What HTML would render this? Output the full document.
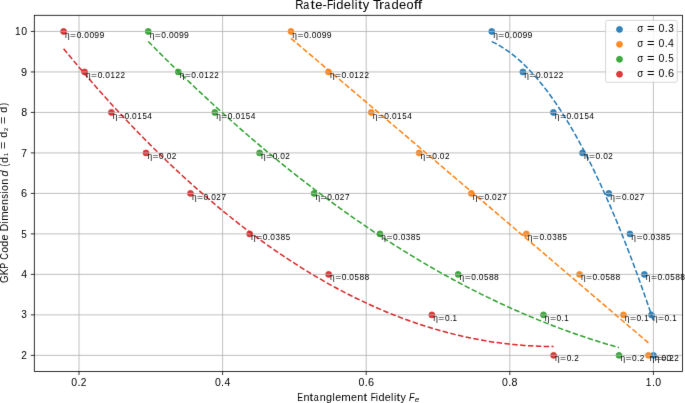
<!DOCTYPE html>
<html><head><meta charset="utf-8"><title>Rate-Fidelity Tradeoff</title>
<style>html,body{margin:0;padding:0;background:#fff;width:685px;height:403px;overflow:hidden}</style>
</head><body>
<svg width="685" height="403" viewBox="0 0 685 403" style="display:block;will-change:transform;font-family:'Liberation Sans',sans-serif">
<defs><filter id="soft" x="0" y="0" width="685" height="403" filterUnits="userSpaceOnUse" color-interpolation-filters="sRGB"><feConvolveMatrix order="3" kernelMatrix="0.00524 0.06192 0.00524 0.06192 0.73137 0.06192 0.00524 0.06192 0.00524" edgeMode="duplicate"/></filter></defs>
<g filter="url(#soft)">
<rect width="685" height="403" fill="#fff"/>
<circle cx="491.74" cy="31.45" r="2.95" fill="#1f77b4" fill-opacity="0.9" stroke="#1f77b4" stroke-opacity="0.9" stroke-width="0.9"/>
<circle cx="522.85" cy="71.94" r="2.95" fill="#1f77b4" fill-opacity="0.9" stroke="#1f77b4" stroke-opacity="0.9" stroke-width="0.9"/>
<circle cx="553.40" cy="112.43" r="2.95" fill="#1f77b4" fill-opacity="0.9" stroke="#1f77b4" stroke-opacity="0.9" stroke-width="0.9"/>
<circle cx="582.50" cy="152.92" r="2.95" fill="#1f77b4" fill-opacity="0.9" stroke="#1f77b4" stroke-opacity="0.9" stroke-width="0.9"/>
<circle cx="608.84" cy="193.41" r="2.95" fill="#1f77b4" fill-opacity="0.9" stroke="#1f77b4" stroke-opacity="0.9" stroke-width="0.9"/>
<circle cx="629.90" cy="233.90" r="2.95" fill="#1f77b4" fill-opacity="0.9" stroke="#1f77b4" stroke-opacity="0.9" stroke-width="0.9"/>
<circle cx="644.40" cy="274.39" r="2.95" fill="#1f77b4" fill-opacity="0.9" stroke="#1f77b4" stroke-opacity="0.9" stroke-width="0.9"/>
<circle cx="651.50" cy="314.88" r="2.95" fill="#1f77b4" fill-opacity="0.9" stroke="#1f77b4" stroke-opacity="0.9" stroke-width="0.9"/>
<circle cx="653.45" cy="355.37" r="2.95" fill="#1f77b4" fill-opacity="0.9" stroke="#1f77b4" stroke-opacity="0.9" stroke-width="0.9"/>
<circle cx="290.95" cy="31.45" r="2.95" fill="#ff7f0e" fill-opacity="0.9" stroke="#ff7f0e" stroke-opacity="0.9" stroke-width="0.9"/>
<circle cx="328.50" cy="71.94" r="2.95" fill="#ff7f0e" fill-opacity="0.9" stroke="#ff7f0e" stroke-opacity="0.9" stroke-width="0.9"/>
<circle cx="371.24" cy="112.43" r="2.95" fill="#ff7f0e" fill-opacity="0.9" stroke="#ff7f0e" stroke-opacity="0.9" stroke-width="0.9"/>
<circle cx="419.15" cy="152.92" r="2.95" fill="#ff7f0e" fill-opacity="0.9" stroke="#ff7f0e" stroke-opacity="0.9" stroke-width="0.9"/>
<circle cx="471.37" cy="193.41" r="2.95" fill="#ff7f0e" fill-opacity="0.9" stroke="#ff7f0e" stroke-opacity="0.9" stroke-width="0.9"/>
<circle cx="526.36" cy="233.90" r="2.95" fill="#ff7f0e" fill-opacity="0.9" stroke="#ff7f0e" stroke-opacity="0.9" stroke-width="0.9"/>
<circle cx="579.50" cy="274.39" r="2.95" fill="#ff7f0e" fill-opacity="0.9" stroke="#ff7f0e" stroke-opacity="0.9" stroke-width="0.9"/>
<circle cx="623.47" cy="314.88" r="2.95" fill="#ff7f0e" fill-opacity="0.9" stroke="#ff7f0e" stroke-opacity="0.9" stroke-width="0.9"/>
<circle cx="648.46" cy="355.37" r="2.95" fill="#ff7f0e" fill-opacity="0.9" stroke="#ff7f0e" stroke-opacity="0.9" stroke-width="0.9"/>
<circle cx="148.23" cy="31.45" r="2.95" fill="#2ca02c" fill-opacity="0.9" stroke="#2ca02c" stroke-opacity="0.9" stroke-width="0.9"/>
<circle cx="178.30" cy="71.94" r="2.95" fill="#2ca02c" fill-opacity="0.9" stroke="#2ca02c" stroke-opacity="0.9" stroke-width="0.9"/>
<circle cx="214.80" cy="112.43" r="2.95" fill="#2ca02c" fill-opacity="0.9" stroke="#2ca02c" stroke-opacity="0.9" stroke-width="0.9"/>
<circle cx="259.57" cy="152.92" r="2.95" fill="#2ca02c" fill-opacity="0.9" stroke="#2ca02c" stroke-opacity="0.9" stroke-width="0.9"/>
<circle cx="314.10" cy="193.41" r="2.95" fill="#2ca02c" fill-opacity="0.9" stroke="#2ca02c" stroke-opacity="0.9" stroke-width="0.9"/>
<circle cx="379.96" cy="233.90" r="2.95" fill="#2ca02c" fill-opacity="0.9" stroke="#2ca02c" stroke-opacity="0.9" stroke-width="0.9"/>
<circle cx="458.16" cy="274.39" r="2.95" fill="#2ca02c" fill-opacity="0.9" stroke="#2ca02c" stroke-opacity="0.9" stroke-width="0.9"/>
<circle cx="543.47" cy="314.88" r="2.95" fill="#2ca02c" fill-opacity="0.9" stroke="#2ca02c" stroke-opacity="0.9" stroke-width="0.9"/>
<circle cx="619.00" cy="355.37" r="2.95" fill="#2ca02c" fill-opacity="0.9" stroke="#2ca02c" stroke-opacity="0.9" stroke-width="0.9"/>
<circle cx="63.60" cy="31.45" r="2.95" fill="#d62728" fill-opacity="0.9" stroke="#d62728" stroke-opacity="0.9" stroke-width="0.9"/>
<circle cx="84.60" cy="71.94" r="2.95" fill="#d62728" fill-opacity="0.9" stroke="#d62728" stroke-opacity="0.9" stroke-width="0.9"/>
<circle cx="111.40" cy="112.43" r="2.95" fill="#d62728" fill-opacity="0.9" stroke="#d62728" stroke-opacity="0.9" stroke-width="0.9"/>
<circle cx="146.00" cy="152.92" r="2.95" fill="#d62728" fill-opacity="0.9" stroke="#d62728" stroke-opacity="0.9" stroke-width="0.9"/>
<circle cx="190.50" cy="193.41" r="2.95" fill="#d62728" fill-opacity="0.9" stroke="#d62728" stroke-opacity="0.9" stroke-width="0.9"/>
<circle cx="249.65" cy="233.90" r="2.95" fill="#d62728" fill-opacity="0.9" stroke="#d62728" stroke-opacity="0.9" stroke-width="0.9"/>
<circle cx="328.66" cy="274.39" r="2.95" fill="#d62728" fill-opacity="0.9" stroke="#d62728" stroke-opacity="0.9" stroke-width="0.9"/>
<circle cx="431.86" cy="314.88" r="2.95" fill="#d62728" fill-opacity="0.9" stroke="#d62728" stroke-opacity="0.9" stroke-width="0.9"/>
<circle cx="553.57" cy="355.37" r="2.95" fill="#d62728" fill-opacity="0.9" stroke="#d62728" stroke-opacity="0.9" stroke-width="0.9"/>
<path d="M79.00 15.30V371.50M222.60 15.30V371.50M366.20 15.30V371.50M509.80 15.30V371.50M653.40 15.30V371.50M34.30 355.37H682.40M34.30 314.88H682.40M34.30 274.39H682.40M34.30 233.90H682.40M34.30 193.41H682.40M34.30 152.92H682.40M34.30 112.43H682.40M34.30 71.94H682.40M34.30 31.45H682.40" stroke="#b0b0b0" stroke-width="0.8" stroke-opacity="1.0" fill="none"/>
<polyline points="491.74,41.57 493.37,42.34 495.01,43.16 496.64,44.01 498.27,44.91 499.91,45.85 501.54,46.83 503.17,47.86 504.81,48.92 506.44,50.03 508.07,51.18 509.71,52.37 511.34,53.60 512.97,54.88 514.61,56.19 516.24,57.55 517.87,58.95 519.51,60.39 521.14,61.88 522.78,63.40 524.41,64.97 526.04,66.58 527.68,68.23 529.31,69.92 530.94,71.66 532.58,73.43 534.21,75.25 535.84,77.11 537.48,79.01 539.11,80.96 540.74,82.94 542.38,84.97 544.01,87.04 545.64,89.15 547.28,91.30 548.91,93.49 550.54,95.73 552.18,98.01 553.81,100.33 555.44,102.69 557.08,105.09 558.71,107.54 560.34,110.02 561.98,112.55 563.61,115.12 565.24,117.74 566.88,120.39 568.51,123.09 570.14,125.82 571.78,128.60 573.41,131.43 575.05,134.29 576.68,137.19 578.31,140.14 579.95,143.13 581.58,146.16 583.21,149.23 584.85,152.35 586.48,155.50 588.11,158.70 589.75,161.94 591.38,165.22 593.01,168.54 594.65,171.91 596.28,175.31 597.91,178.76 599.55,182.25 601.18,185.78 602.81,189.36 604.45,192.97 606.08,196.63 607.71,200.33 609.35,204.07 610.98,207.86 612.61,211.68 614.25,215.55 615.88,219.46 617.51,223.41 619.15,227.40 620.78,231.43 622.41,235.51 624.05,239.62 625.68,243.78 627.32,247.98 628.95,252.23 630.58,256.51 632.22,260.84 633.85,265.21 635.48,269.62 637.12,274.07 638.75,278.56 640.38,283.10 642.02,287.67 643.65,292.29 645.28,296.95 646.92,301.66 648.55,306.40 650.18,311.19 651.82,316.02 653.45,320.89" fill="none" stroke="#1f77b4" stroke-opacity="1.0" stroke-width="1.5" stroke-dasharray="5.495 2.376"/>
<polyline points="290.95,38.31 294.56,41.38 298.17,44.44 301.78,47.50 305.39,50.56 309.01,53.63 312.62,56.69 316.23,59.75 319.84,62.82 323.45,65.88 327.06,68.95 330.67,72.01 334.28,75.08 337.90,78.14 341.51,81.21 345.12,84.27 348.73,87.34 352.34,90.41 355.95,93.47 359.56,96.54 363.17,99.61 366.79,102.68 370.40,105.74 374.01,108.81 377.62,111.88 381.23,114.95 384.84,118.02 388.45,121.09 392.06,124.16 395.68,127.23 399.29,130.30 402.90,133.37 406.51,136.44 410.12,139.52 413.73,142.59 417.34,145.66 420.95,148.73 424.56,151.80 428.18,154.88 431.79,157.95 435.40,161.02 439.01,164.10 442.62,167.17 446.23,170.25 449.84,173.32 453.45,176.40 457.07,179.47 460.68,182.55 464.29,185.62 467.90,188.70 471.51,191.78 475.12,194.85 478.73,197.93 482.34,201.01 485.96,204.09 489.57,207.17 493.18,210.24 496.79,213.32 500.40,216.40 504.01,219.48 507.62,222.56 511.23,225.64 514.85,228.72 518.46,231.80 522.07,234.88 525.68,237.96 529.29,241.05 532.90,244.13 536.51,247.21 540.12,250.29 543.73,253.37 547.35,256.46 550.96,259.54 554.57,262.62 558.18,265.71 561.79,268.79 565.40,271.88 569.01,274.96 572.62,278.05 576.24,281.13 579.85,284.22 583.46,287.30 587.07,290.39 590.68,293.48 594.29,296.56 597.90,299.65 601.51,302.74 605.13,305.83 608.74,308.92 612.35,312.00 615.96,315.09 619.57,318.18 623.18,321.27 626.79,324.36 630.40,327.45 634.02,330.54 637.63,333.63 641.24,336.72 644.85,339.81 648.46,342.91" fill="none" stroke="#ff7f0e" stroke-opacity="1.0" stroke-width="1.5" stroke-dasharray="5.495 2.376"/>
<polyline points="148.23,41.41 152.99,46.25 157.74,51.05 162.50,55.81 167.25,60.54 172.01,65.24 176.76,69.90 181.52,74.52 186.27,79.11 191.03,83.66 195.78,88.18 200.54,92.66 205.29,97.11 210.05,101.52 214.80,105.89 219.56,110.23 224.31,114.53 229.07,118.80 233.82,123.03 238.58,127.23 243.34,131.39 248.09,135.52 252.85,139.61 257.60,143.66 262.36,147.68 267.11,151.66 271.87,155.61 276.62,159.52 281.38,163.40 286.13,167.24 290.89,171.04 295.64,174.81 300.40,178.55 305.15,182.24 309.91,185.91 314.66,189.53 319.42,193.12 324.17,196.68 328.93,200.20 333.68,203.68 338.44,207.13 343.20,210.55 347.95,213.92 352.71,217.27 357.46,220.57 362.22,223.84 366.97,227.08 371.73,230.28 376.48,233.44 381.24,236.57 385.99,239.67 390.75,242.72 395.50,245.74 400.26,248.73 405.01,251.68 409.77,254.60 414.52,257.48 419.28,260.32 424.03,263.13 428.79,265.90 433.55,268.64 438.30,271.34 443.06,274.00 447.81,276.63 452.57,279.23 457.32,281.79 462.08,284.31 466.83,286.80 471.59,289.25 476.34,291.67 481.10,294.05 485.85,296.39 490.61,298.70 495.36,300.98 500.12,303.22 504.87,305.42 509.63,307.59 514.38,309.72 519.14,311.81 523.89,313.88 528.65,315.90 533.41,317.89 538.16,319.84 542.92,321.76 547.67,323.64 552.43,325.49 557.18,327.30 561.94,329.08 566.69,330.82 571.45,332.52 576.20,334.19 580.96,335.83 585.71,337.42 590.47,338.99 595.22,340.51 599.98,342.00 604.73,343.46 609.49,344.88 614.24,346.26 619.00,347.61" fill="none" stroke="#2ca02c" stroke-opacity="1.0" stroke-width="1.5" stroke-dasharray="5.495 2.376"/>
<polyline points="63.60,48.77 68.55,54.76 73.50,60.69 78.45,66.55 83.40,72.36 88.35,78.10 93.30,83.78 98.24,89.41 103.19,94.97 108.14,100.47 113.09,105.91 118.04,111.29 122.99,116.60 127.94,121.86 132.89,127.06 137.84,132.19 142.79,137.27 147.74,142.28 152.69,147.23 157.63,152.13 162.58,156.96 167.53,161.73 172.48,166.44 177.43,171.09 182.38,175.68 187.33,180.20 192.28,184.67 197.23,189.08 202.18,193.42 207.13,197.71 212.08,201.93 217.02,206.09 221.97,210.19 226.92,214.23 231.87,218.21 236.82,222.13 241.77,225.99 246.72,229.79 251.67,233.53 256.62,237.20 261.57,240.82 266.52,244.37 271.47,247.87 276.42,251.30 281.36,254.67 286.31,257.98 291.26,261.23 296.21,264.42 301.16,267.55 306.11,270.62 311.06,273.63 316.01,276.57 320.96,279.46 325.91,282.28 330.86,285.05 335.81,287.75 340.75,290.39 345.70,292.98 350.65,295.50 355.60,297.96 360.55,300.36 365.50,302.69 370.45,304.97 375.40,307.19 380.35,309.34 385.30,311.44 390.25,313.47 395.20,315.45 400.15,317.36 405.09,319.21 410.04,321.00 414.99,322.73 419.94,324.40 424.89,326.01 429.84,327.56 434.79,329.05 439.74,330.47 444.69,331.84 449.64,333.14 454.59,334.39 459.54,335.57 464.48,336.69 469.43,337.75 474.38,338.75 479.33,339.69 484.28,340.57 489.23,341.39 494.18,342.15 499.13,342.84 504.08,343.48 509.03,344.05 513.98,344.57 518.93,345.02 523.87,345.41 528.82,345.75 533.77,346.02 538.72,346.23 543.67,346.38 548.62,346.46 553.57,346.49" fill="none" stroke="#d62728" stroke-opacity="1.0" stroke-width="1.5" stroke-dasharray="5.495 2.376"/>
<rect x="34.3" y="15.3" width="648.10" height="356.20" fill="none" stroke="#000" stroke-width="0.8"/>
<path d="M79.00 371.50v3.5M222.60 371.50v3.5M366.20 371.50v3.5M509.80 371.50v3.5M653.40 371.50v3.5M34.30 355.37h-3.5M34.30 314.88h-3.5M34.30 274.39h-3.5M34.30 233.90h-3.5M34.30 193.41h-3.5M34.30 152.92h-3.5M34.30 112.43h-3.5M34.30 71.94h-3.5M34.30 31.45h-3.5" stroke="#000" stroke-width="0.8" fill="none"/>
<text transform="translate(79.00,386.00)" y="0" style="font-size:10.30px" fill="#000"><tspan x="-7.70" textLength="5.86" lengthAdjust="spacingAndGlyphs">0</tspan><tspan x="-1.51" textLength="3.01" lengthAdjust="spacingAndGlyphs">.</tspan><tspan x="1.81" textLength="5.65" lengthAdjust="spacingAndGlyphs">2</tspan></text>
<text transform="translate(222.60,386.00)" y="0" style="font-size:10.30px" fill="#000"><tspan x="-7.70" textLength="5.86" lengthAdjust="spacingAndGlyphs">0</tspan><tspan x="-1.51" textLength="3.01" lengthAdjust="spacingAndGlyphs">.</tspan><tspan x="1.84" textLength="5.86" lengthAdjust="spacingAndGlyphs">4</tspan></text>
<text transform="translate(366.20,386.00)" y="0" style="font-size:10.30px" fill="#000"><tspan x="-7.70" textLength="5.86" lengthAdjust="spacingAndGlyphs">0</tspan><tspan x="-1.51" textLength="3.01" lengthAdjust="spacingAndGlyphs">.</tspan><tspan x="1.73" textLength="6.07" lengthAdjust="spacingAndGlyphs">6</tspan></text>
<text transform="translate(509.80,386.00)" y="0" style="font-size:10.30px" fill="#000"><tspan x="-7.70" textLength="5.86" lengthAdjust="spacingAndGlyphs">0</tspan><tspan x="-1.51" textLength="3.01" lengthAdjust="spacingAndGlyphs">.</tspan><tspan x="1.81" textLength="5.93" lengthAdjust="spacingAndGlyphs">8</tspan></text>
<text transform="translate(653.40,386.00)" y="0" style="font-size:10.30px" fill="#000"><tspan x="-7.62" textLength="5.60" lengthAdjust="spacingAndGlyphs">1</tspan><tspan x="-1.51" textLength="3.01" lengthAdjust="spacingAndGlyphs">.</tspan><tspan x="1.84" textLength="5.86" lengthAdjust="spacingAndGlyphs">0</tspan></text>
<text transform="translate(27.30,358.97)" y="0" style="font-size:10.30px" fill="#000"><tspan x="-6.14" textLength="5.65" lengthAdjust="spacingAndGlyphs">2</tspan></text>
<text transform="translate(27.30,318.48)" y="0" style="font-size:10.30px" fill="#000"><tspan x="-5.99" textLength="5.63" lengthAdjust="spacingAndGlyphs">3</tspan></text>
<text transform="translate(27.30,277.99)" y="0" style="font-size:10.30px" fill="#000"><tspan x="-6.12" textLength="5.86" lengthAdjust="spacingAndGlyphs">4</tspan></text>
<text transform="translate(27.30,237.50)" y="0" style="font-size:10.30px" fill="#000"><tspan x="-5.99" textLength="5.53" lengthAdjust="spacingAndGlyphs">5</tspan></text>
<text transform="translate(27.30,197.01)" y="0" style="font-size:10.30px" fill="#000"><tspan x="-6.22" textLength="6.07" lengthAdjust="spacingAndGlyphs">6</tspan></text>
<text transform="translate(27.30,156.52)" y="0" style="font-size:10.30px" fill="#000"><tspan x="-6.07" textLength="5.73" lengthAdjust="spacingAndGlyphs">7</tspan></text>
<text transform="translate(27.30,116.03)" y="0" style="font-size:10.30px" fill="#000"><tspan x="-6.15" textLength="5.93" lengthAdjust="spacingAndGlyphs">8</tspan></text>
<text transform="translate(27.30,75.54)" y="0" style="font-size:10.30px" fill="#000"><tspan x="-6.24" textLength="6.06" lengthAdjust="spacingAndGlyphs">9</tspan></text>
<text transform="translate(27.30,35.05)" y="0" style="font-size:10.30px" fill="#000"><tspan x="-12.39" textLength="5.60" lengthAdjust="spacingAndGlyphs">1</tspan><tspan x="-6.11" textLength="5.86" lengthAdjust="spacingAndGlyphs">0</tspan></text>
<text transform="translate(492.84,37.55)" y="0" style="font-size:8.24px" fill="#000"><tspan x="0.30" textLength="4.64" lengthAdjust="spacingAndGlyphs">η</tspan><tspan x="5.41" textLength="6.02" lengthAdjust="spacingAndGlyphs">=</tspan><tspan x="11.97" textLength="4.69" lengthAdjust="spacingAndGlyphs">0</tspan><tspan x="16.93" textLength="2.41" lengthAdjust="spacingAndGlyphs">.</tspan><tspan x="19.60" textLength="4.69" lengthAdjust="spacingAndGlyphs">0</tspan><tspan x="24.69" textLength="4.69" lengthAdjust="spacingAndGlyphs">0</tspan><tspan x="29.68" textLength="4.84" lengthAdjust="spacingAndGlyphs">9</tspan><tspan x="34.77" textLength="4.84" lengthAdjust="spacingAndGlyphs">9</tspan></text>
<text transform="translate(523.95,78.04)" y="0" style="font-size:8.24px" fill="#000"><tspan x="0.30" textLength="4.64" lengthAdjust="spacingAndGlyphs">η</tspan><tspan x="5.41" textLength="6.02" lengthAdjust="spacingAndGlyphs">=</tspan><tspan x="11.97" textLength="4.69" lengthAdjust="spacingAndGlyphs">0</tspan><tspan x="16.93" textLength="2.41" lengthAdjust="spacingAndGlyphs">.</tspan><tspan x="19.60" textLength="4.69" lengthAdjust="spacingAndGlyphs">0</tspan><tspan x="24.76" textLength="4.48" lengthAdjust="spacingAndGlyphs">1</tspan><tspan x="29.76" textLength="4.52" lengthAdjust="spacingAndGlyphs">2</tspan><tspan x="34.85" textLength="4.52" lengthAdjust="spacingAndGlyphs">2</tspan></text>
<text transform="translate(554.50,118.53)" y="0" style="font-size:8.24px" fill="#000"><tspan x="0.30" textLength="4.64" lengthAdjust="spacingAndGlyphs">η</tspan><tspan x="5.41" textLength="6.02" lengthAdjust="spacingAndGlyphs">=</tspan><tspan x="11.97" textLength="4.69" lengthAdjust="spacingAndGlyphs">0</tspan><tspan x="16.93" textLength="2.41" lengthAdjust="spacingAndGlyphs">.</tspan><tspan x="19.60" textLength="4.69" lengthAdjust="spacingAndGlyphs">0</tspan><tspan x="24.76" textLength="4.48" lengthAdjust="spacingAndGlyphs">1</tspan><tspan x="29.88" textLength="4.43" lengthAdjust="spacingAndGlyphs">5</tspan><tspan x="34.87" textLength="4.69" lengthAdjust="spacingAndGlyphs">4</tspan></text>
<text transform="translate(583.60,159.02)" y="0" style="font-size:8.24px" fill="#000"><tspan x="0.30" textLength="4.64" lengthAdjust="spacingAndGlyphs">η</tspan><tspan x="5.41" textLength="6.02" lengthAdjust="spacingAndGlyphs">=</tspan><tspan x="11.97" textLength="4.69" lengthAdjust="spacingAndGlyphs">0</tspan><tspan x="16.93" textLength="2.41" lengthAdjust="spacingAndGlyphs">.</tspan><tspan x="19.60" textLength="4.69" lengthAdjust="spacingAndGlyphs">0</tspan><tspan x="24.67" textLength="4.52" lengthAdjust="spacingAndGlyphs">2</tspan></text>
<text transform="translate(609.94,199.51)" y="0" style="font-size:8.24px" fill="#000"><tspan x="0.30" textLength="4.64" lengthAdjust="spacingAndGlyphs">η</tspan><tspan x="5.41" textLength="6.02" lengthAdjust="spacingAndGlyphs">=</tspan><tspan x="11.97" textLength="4.69" lengthAdjust="spacingAndGlyphs">0</tspan><tspan x="16.93" textLength="2.41" lengthAdjust="spacingAndGlyphs">.</tspan><tspan x="19.60" textLength="4.69" lengthAdjust="spacingAndGlyphs">0</tspan><tspan x="24.67" textLength="4.52" lengthAdjust="spacingAndGlyphs">2</tspan><tspan x="29.82" textLength="4.59" lengthAdjust="spacingAndGlyphs">7</tspan></text>
<text transform="translate(631.00,240.00)" y="0" style="font-size:8.24px" fill="#000"><tspan x="0.30" textLength="4.64" lengthAdjust="spacingAndGlyphs">η</tspan><tspan x="5.41" textLength="6.02" lengthAdjust="spacingAndGlyphs">=</tspan><tspan x="11.97" textLength="4.69" lengthAdjust="spacingAndGlyphs">0</tspan><tspan x="16.93" textLength="2.41" lengthAdjust="spacingAndGlyphs">.</tspan><tspan x="19.60" textLength="4.69" lengthAdjust="spacingAndGlyphs">0</tspan><tspan x="24.80" textLength="4.50" lengthAdjust="spacingAndGlyphs">3</tspan><tspan x="29.76" textLength="4.74" lengthAdjust="spacingAndGlyphs">8</tspan><tspan x="34.97" textLength="4.43" lengthAdjust="spacingAndGlyphs">5</tspan></text>
<text transform="translate(645.50,280.49)" y="0" style="font-size:8.24px" fill="#000"><tspan x="0.30" textLength="4.64" lengthAdjust="spacingAndGlyphs">η</tspan><tspan x="5.41" textLength="6.02" lengthAdjust="spacingAndGlyphs">=</tspan><tspan x="11.97" textLength="4.69" lengthAdjust="spacingAndGlyphs">0</tspan><tspan x="16.93" textLength="2.41" lengthAdjust="spacingAndGlyphs">.</tspan><tspan x="19.60" textLength="4.69" lengthAdjust="spacingAndGlyphs">0</tspan><tspan x="24.79" textLength="4.43" lengthAdjust="spacingAndGlyphs">5</tspan><tspan x="29.76" textLength="4.74" lengthAdjust="spacingAndGlyphs">8</tspan><tspan x="34.85" textLength="4.74" lengthAdjust="spacingAndGlyphs">8</tspan></text>
<text transform="translate(652.60,320.98)" y="0" style="font-size:8.24px" fill="#000"><tspan x="0.30" textLength="4.64" lengthAdjust="spacingAndGlyphs">η</tspan><tspan x="5.41" textLength="6.02" lengthAdjust="spacingAndGlyphs">=</tspan><tspan x="11.97" textLength="4.69" lengthAdjust="spacingAndGlyphs">0</tspan><tspan x="16.93" textLength="2.41" lengthAdjust="spacingAndGlyphs">.</tspan><tspan x="19.67" textLength="4.48" lengthAdjust="spacingAndGlyphs">1</tspan></text>
<text transform="translate(654.55,361.47)" y="0" style="font-size:8.24px" fill="#000"><tspan x="0.30" textLength="4.64" lengthAdjust="spacingAndGlyphs">η</tspan><tspan x="5.41" textLength="6.02" lengthAdjust="spacingAndGlyphs">=</tspan><tspan x="11.97" textLength="4.69" lengthAdjust="spacingAndGlyphs">0</tspan><tspan x="16.93" textLength="2.41" lengthAdjust="spacingAndGlyphs">.</tspan><tspan x="19.58" textLength="4.52" lengthAdjust="spacingAndGlyphs">2</tspan></text>
<text transform="translate(292.05,37.55)" y="0" style="font-size:8.24px" fill="#000"><tspan x="0.30" textLength="4.64" lengthAdjust="spacingAndGlyphs">η</tspan><tspan x="5.41" textLength="6.02" lengthAdjust="spacingAndGlyphs">=</tspan><tspan x="11.97" textLength="4.69" lengthAdjust="spacingAndGlyphs">0</tspan><tspan x="16.93" textLength="2.41" lengthAdjust="spacingAndGlyphs">.</tspan><tspan x="19.60" textLength="4.69" lengthAdjust="spacingAndGlyphs">0</tspan><tspan x="24.69" textLength="4.69" lengthAdjust="spacingAndGlyphs">0</tspan><tspan x="29.68" textLength="4.84" lengthAdjust="spacingAndGlyphs">9</tspan><tspan x="34.77" textLength="4.84" lengthAdjust="spacingAndGlyphs">9</tspan></text>
<text transform="translate(329.60,78.04)" y="0" style="font-size:8.24px" fill="#000"><tspan x="0.30" textLength="4.64" lengthAdjust="spacingAndGlyphs">η</tspan><tspan x="5.41" textLength="6.02" lengthAdjust="spacingAndGlyphs">=</tspan><tspan x="11.97" textLength="4.69" lengthAdjust="spacingAndGlyphs">0</tspan><tspan x="16.93" textLength="2.41" lengthAdjust="spacingAndGlyphs">.</tspan><tspan x="19.60" textLength="4.69" lengthAdjust="spacingAndGlyphs">0</tspan><tspan x="24.76" textLength="4.48" lengthAdjust="spacingAndGlyphs">1</tspan><tspan x="29.76" textLength="4.52" lengthAdjust="spacingAndGlyphs">2</tspan><tspan x="34.85" textLength="4.52" lengthAdjust="spacingAndGlyphs">2</tspan></text>
<text transform="translate(372.34,118.53)" y="0" style="font-size:8.24px" fill="#000"><tspan x="0.30" textLength="4.64" lengthAdjust="spacingAndGlyphs">η</tspan><tspan x="5.41" textLength="6.02" lengthAdjust="spacingAndGlyphs">=</tspan><tspan x="11.97" textLength="4.69" lengthAdjust="spacingAndGlyphs">0</tspan><tspan x="16.93" textLength="2.41" lengthAdjust="spacingAndGlyphs">.</tspan><tspan x="19.60" textLength="4.69" lengthAdjust="spacingAndGlyphs">0</tspan><tspan x="24.76" textLength="4.48" lengthAdjust="spacingAndGlyphs">1</tspan><tspan x="29.88" textLength="4.43" lengthAdjust="spacingAndGlyphs">5</tspan><tspan x="34.87" textLength="4.69" lengthAdjust="spacingAndGlyphs">4</tspan></text>
<text transform="translate(420.25,159.02)" y="0" style="font-size:8.24px" fill="#000"><tspan x="0.30" textLength="4.64" lengthAdjust="spacingAndGlyphs">η</tspan><tspan x="5.41" textLength="6.02" lengthAdjust="spacingAndGlyphs">=</tspan><tspan x="11.97" textLength="4.69" lengthAdjust="spacingAndGlyphs">0</tspan><tspan x="16.93" textLength="2.41" lengthAdjust="spacingAndGlyphs">.</tspan><tspan x="19.60" textLength="4.69" lengthAdjust="spacingAndGlyphs">0</tspan><tspan x="24.67" textLength="4.52" lengthAdjust="spacingAndGlyphs">2</tspan></text>
<text transform="translate(472.47,199.51)" y="0" style="font-size:8.24px" fill="#000"><tspan x="0.30" textLength="4.64" lengthAdjust="spacingAndGlyphs">η</tspan><tspan x="5.41" textLength="6.02" lengthAdjust="spacingAndGlyphs">=</tspan><tspan x="11.97" textLength="4.69" lengthAdjust="spacingAndGlyphs">0</tspan><tspan x="16.93" textLength="2.41" lengthAdjust="spacingAndGlyphs">.</tspan><tspan x="19.60" textLength="4.69" lengthAdjust="spacingAndGlyphs">0</tspan><tspan x="24.67" textLength="4.52" lengthAdjust="spacingAndGlyphs">2</tspan><tspan x="29.82" textLength="4.59" lengthAdjust="spacingAndGlyphs">7</tspan></text>
<text transform="translate(527.46,240.00)" y="0" style="font-size:8.24px" fill="#000"><tspan x="0.30" textLength="4.64" lengthAdjust="spacingAndGlyphs">η</tspan><tspan x="5.41" textLength="6.02" lengthAdjust="spacingAndGlyphs">=</tspan><tspan x="11.97" textLength="4.69" lengthAdjust="spacingAndGlyphs">0</tspan><tspan x="16.93" textLength="2.41" lengthAdjust="spacingAndGlyphs">.</tspan><tspan x="19.60" textLength="4.69" lengthAdjust="spacingAndGlyphs">0</tspan><tspan x="24.80" textLength="4.50" lengthAdjust="spacingAndGlyphs">3</tspan><tspan x="29.76" textLength="4.74" lengthAdjust="spacingAndGlyphs">8</tspan><tspan x="34.97" textLength="4.43" lengthAdjust="spacingAndGlyphs">5</tspan></text>
<text transform="translate(580.60,280.49)" y="0" style="font-size:8.24px" fill="#000"><tspan x="0.30" textLength="4.64" lengthAdjust="spacingAndGlyphs">η</tspan><tspan x="5.41" textLength="6.02" lengthAdjust="spacingAndGlyphs">=</tspan><tspan x="11.97" textLength="4.69" lengthAdjust="spacingAndGlyphs">0</tspan><tspan x="16.93" textLength="2.41" lengthAdjust="spacingAndGlyphs">.</tspan><tspan x="19.60" textLength="4.69" lengthAdjust="spacingAndGlyphs">0</tspan><tspan x="24.79" textLength="4.43" lengthAdjust="spacingAndGlyphs">5</tspan><tspan x="29.76" textLength="4.74" lengthAdjust="spacingAndGlyphs">8</tspan><tspan x="34.85" textLength="4.74" lengthAdjust="spacingAndGlyphs">8</tspan></text>
<text transform="translate(624.57,320.98)" y="0" style="font-size:8.24px" fill="#000"><tspan x="0.30" textLength="4.64" lengthAdjust="spacingAndGlyphs">η</tspan><tspan x="5.41" textLength="6.02" lengthAdjust="spacingAndGlyphs">=</tspan><tspan x="11.97" textLength="4.69" lengthAdjust="spacingAndGlyphs">0</tspan><tspan x="16.93" textLength="2.41" lengthAdjust="spacingAndGlyphs">.</tspan><tspan x="19.67" textLength="4.48" lengthAdjust="spacingAndGlyphs">1</tspan></text>
<text transform="translate(649.56,361.47)" y="0" style="font-size:8.24px" fill="#000"><tspan x="0.30" textLength="4.64" lengthAdjust="spacingAndGlyphs">η</tspan><tspan x="5.41" textLength="6.02" lengthAdjust="spacingAndGlyphs">=</tspan><tspan x="11.97" textLength="4.69" lengthAdjust="spacingAndGlyphs">0</tspan><tspan x="16.93" textLength="2.41" lengthAdjust="spacingAndGlyphs">.</tspan><tspan x="19.58" textLength="4.52" lengthAdjust="spacingAndGlyphs">2</tspan></text>
<text transform="translate(149.33,37.55)" y="0" style="font-size:8.24px" fill="#000"><tspan x="0.30" textLength="4.64" lengthAdjust="spacingAndGlyphs">η</tspan><tspan x="5.41" textLength="6.02" lengthAdjust="spacingAndGlyphs">=</tspan><tspan x="11.97" textLength="4.69" lengthAdjust="spacingAndGlyphs">0</tspan><tspan x="16.93" textLength="2.41" lengthAdjust="spacingAndGlyphs">.</tspan><tspan x="19.60" textLength="4.69" lengthAdjust="spacingAndGlyphs">0</tspan><tspan x="24.69" textLength="4.69" lengthAdjust="spacingAndGlyphs">0</tspan><tspan x="29.68" textLength="4.84" lengthAdjust="spacingAndGlyphs">9</tspan><tspan x="34.77" textLength="4.84" lengthAdjust="spacingAndGlyphs">9</tspan></text>
<text transform="translate(179.40,78.04)" y="0" style="font-size:8.24px" fill="#000"><tspan x="0.30" textLength="4.64" lengthAdjust="spacingAndGlyphs">η</tspan><tspan x="5.41" textLength="6.02" lengthAdjust="spacingAndGlyphs">=</tspan><tspan x="11.97" textLength="4.69" lengthAdjust="spacingAndGlyphs">0</tspan><tspan x="16.93" textLength="2.41" lengthAdjust="spacingAndGlyphs">.</tspan><tspan x="19.60" textLength="4.69" lengthAdjust="spacingAndGlyphs">0</tspan><tspan x="24.76" textLength="4.48" lengthAdjust="spacingAndGlyphs">1</tspan><tspan x="29.76" textLength="4.52" lengthAdjust="spacingAndGlyphs">2</tspan><tspan x="34.85" textLength="4.52" lengthAdjust="spacingAndGlyphs">2</tspan></text>
<text transform="translate(215.90,118.53)" y="0" style="font-size:8.24px" fill="#000"><tspan x="0.30" textLength="4.64" lengthAdjust="spacingAndGlyphs">η</tspan><tspan x="5.41" textLength="6.02" lengthAdjust="spacingAndGlyphs">=</tspan><tspan x="11.97" textLength="4.69" lengthAdjust="spacingAndGlyphs">0</tspan><tspan x="16.93" textLength="2.41" lengthAdjust="spacingAndGlyphs">.</tspan><tspan x="19.60" textLength="4.69" lengthAdjust="spacingAndGlyphs">0</tspan><tspan x="24.76" textLength="4.48" lengthAdjust="spacingAndGlyphs">1</tspan><tspan x="29.88" textLength="4.43" lengthAdjust="spacingAndGlyphs">5</tspan><tspan x="34.87" textLength="4.69" lengthAdjust="spacingAndGlyphs">4</tspan></text>
<text transform="translate(260.67,159.02)" y="0" style="font-size:8.24px" fill="#000"><tspan x="0.30" textLength="4.64" lengthAdjust="spacingAndGlyphs">η</tspan><tspan x="5.41" textLength="6.02" lengthAdjust="spacingAndGlyphs">=</tspan><tspan x="11.97" textLength="4.69" lengthAdjust="spacingAndGlyphs">0</tspan><tspan x="16.93" textLength="2.41" lengthAdjust="spacingAndGlyphs">.</tspan><tspan x="19.60" textLength="4.69" lengthAdjust="spacingAndGlyphs">0</tspan><tspan x="24.67" textLength="4.52" lengthAdjust="spacingAndGlyphs">2</tspan></text>
<text transform="translate(315.20,199.51)" y="0" style="font-size:8.24px" fill="#000"><tspan x="0.30" textLength="4.64" lengthAdjust="spacingAndGlyphs">η</tspan><tspan x="5.41" textLength="6.02" lengthAdjust="spacingAndGlyphs">=</tspan><tspan x="11.97" textLength="4.69" lengthAdjust="spacingAndGlyphs">0</tspan><tspan x="16.93" textLength="2.41" lengthAdjust="spacingAndGlyphs">.</tspan><tspan x="19.60" textLength="4.69" lengthAdjust="spacingAndGlyphs">0</tspan><tspan x="24.67" textLength="4.52" lengthAdjust="spacingAndGlyphs">2</tspan><tspan x="29.82" textLength="4.59" lengthAdjust="spacingAndGlyphs">7</tspan></text>
<text transform="translate(381.06,240.00)" y="0" style="font-size:8.24px" fill="#000"><tspan x="0.30" textLength="4.64" lengthAdjust="spacingAndGlyphs">η</tspan><tspan x="5.41" textLength="6.02" lengthAdjust="spacingAndGlyphs">=</tspan><tspan x="11.97" textLength="4.69" lengthAdjust="spacingAndGlyphs">0</tspan><tspan x="16.93" textLength="2.41" lengthAdjust="spacingAndGlyphs">.</tspan><tspan x="19.60" textLength="4.69" lengthAdjust="spacingAndGlyphs">0</tspan><tspan x="24.80" textLength="4.50" lengthAdjust="spacingAndGlyphs">3</tspan><tspan x="29.76" textLength="4.74" lengthAdjust="spacingAndGlyphs">8</tspan><tspan x="34.97" textLength="4.43" lengthAdjust="spacingAndGlyphs">5</tspan></text>
<text transform="translate(459.26,280.49)" y="0" style="font-size:8.24px" fill="#000"><tspan x="0.30" textLength="4.64" lengthAdjust="spacingAndGlyphs">η</tspan><tspan x="5.41" textLength="6.02" lengthAdjust="spacingAndGlyphs">=</tspan><tspan x="11.97" textLength="4.69" lengthAdjust="spacingAndGlyphs">0</tspan><tspan x="16.93" textLength="2.41" lengthAdjust="spacingAndGlyphs">.</tspan><tspan x="19.60" textLength="4.69" lengthAdjust="spacingAndGlyphs">0</tspan><tspan x="24.79" textLength="4.43" lengthAdjust="spacingAndGlyphs">5</tspan><tspan x="29.76" textLength="4.74" lengthAdjust="spacingAndGlyphs">8</tspan><tspan x="34.85" textLength="4.74" lengthAdjust="spacingAndGlyphs">8</tspan></text>
<text transform="translate(544.57,320.98)" y="0" style="font-size:8.24px" fill="#000"><tspan x="0.30" textLength="4.64" lengthAdjust="spacingAndGlyphs">η</tspan><tspan x="5.41" textLength="6.02" lengthAdjust="spacingAndGlyphs">=</tspan><tspan x="11.97" textLength="4.69" lengthAdjust="spacingAndGlyphs">0</tspan><tspan x="16.93" textLength="2.41" lengthAdjust="spacingAndGlyphs">.</tspan><tspan x="19.67" textLength="4.48" lengthAdjust="spacingAndGlyphs">1</tspan></text>
<text transform="translate(620.10,361.47)" y="0" style="font-size:8.24px" fill="#000"><tspan x="0.30" textLength="4.64" lengthAdjust="spacingAndGlyphs">η</tspan><tspan x="5.41" textLength="6.02" lengthAdjust="spacingAndGlyphs">=</tspan><tspan x="11.97" textLength="4.69" lengthAdjust="spacingAndGlyphs">0</tspan><tspan x="16.93" textLength="2.41" lengthAdjust="spacingAndGlyphs">.</tspan><tspan x="19.58" textLength="4.52" lengthAdjust="spacingAndGlyphs">2</tspan></text>
<text transform="translate(64.70,37.55)" y="0" style="font-size:8.24px" fill="#000"><tspan x="0.30" textLength="4.64" lengthAdjust="spacingAndGlyphs">η</tspan><tspan x="5.41" textLength="6.02" lengthAdjust="spacingAndGlyphs">=</tspan><tspan x="11.97" textLength="4.69" lengthAdjust="spacingAndGlyphs">0</tspan><tspan x="16.93" textLength="2.41" lengthAdjust="spacingAndGlyphs">.</tspan><tspan x="19.60" textLength="4.69" lengthAdjust="spacingAndGlyphs">0</tspan><tspan x="24.69" textLength="4.69" lengthAdjust="spacingAndGlyphs">0</tspan><tspan x="29.68" textLength="4.84" lengthAdjust="spacingAndGlyphs">9</tspan><tspan x="34.77" textLength="4.84" lengthAdjust="spacingAndGlyphs">9</tspan></text>
<text transform="translate(85.70,78.04)" y="0" style="font-size:8.24px" fill="#000"><tspan x="0.30" textLength="4.64" lengthAdjust="spacingAndGlyphs">η</tspan><tspan x="5.41" textLength="6.02" lengthAdjust="spacingAndGlyphs">=</tspan><tspan x="11.97" textLength="4.69" lengthAdjust="spacingAndGlyphs">0</tspan><tspan x="16.93" textLength="2.41" lengthAdjust="spacingAndGlyphs">.</tspan><tspan x="19.60" textLength="4.69" lengthAdjust="spacingAndGlyphs">0</tspan><tspan x="24.76" textLength="4.48" lengthAdjust="spacingAndGlyphs">1</tspan><tspan x="29.76" textLength="4.52" lengthAdjust="spacingAndGlyphs">2</tspan><tspan x="34.85" textLength="4.52" lengthAdjust="spacingAndGlyphs">2</tspan></text>
<text transform="translate(112.50,118.53)" y="0" style="font-size:8.24px" fill="#000"><tspan x="0.30" textLength="4.64" lengthAdjust="spacingAndGlyphs">η</tspan><tspan x="5.41" textLength="6.02" lengthAdjust="spacingAndGlyphs">=</tspan><tspan x="11.97" textLength="4.69" lengthAdjust="spacingAndGlyphs">0</tspan><tspan x="16.93" textLength="2.41" lengthAdjust="spacingAndGlyphs">.</tspan><tspan x="19.60" textLength="4.69" lengthAdjust="spacingAndGlyphs">0</tspan><tspan x="24.76" textLength="4.48" lengthAdjust="spacingAndGlyphs">1</tspan><tspan x="29.88" textLength="4.43" lengthAdjust="spacingAndGlyphs">5</tspan><tspan x="34.87" textLength="4.69" lengthAdjust="spacingAndGlyphs">4</tspan></text>
<text transform="translate(147.10,159.02)" y="0" style="font-size:8.24px" fill="#000"><tspan x="0.30" textLength="4.64" lengthAdjust="spacingAndGlyphs">η</tspan><tspan x="5.41" textLength="6.02" lengthAdjust="spacingAndGlyphs">=</tspan><tspan x="11.97" textLength="4.69" lengthAdjust="spacingAndGlyphs">0</tspan><tspan x="16.93" textLength="2.41" lengthAdjust="spacingAndGlyphs">.</tspan><tspan x="19.60" textLength="4.69" lengthAdjust="spacingAndGlyphs">0</tspan><tspan x="24.67" textLength="4.52" lengthAdjust="spacingAndGlyphs">2</tspan></text>
<text transform="translate(191.60,199.51)" y="0" style="font-size:8.24px" fill="#000"><tspan x="0.30" textLength="4.64" lengthAdjust="spacingAndGlyphs">η</tspan><tspan x="5.41" textLength="6.02" lengthAdjust="spacingAndGlyphs">=</tspan><tspan x="11.97" textLength="4.69" lengthAdjust="spacingAndGlyphs">0</tspan><tspan x="16.93" textLength="2.41" lengthAdjust="spacingAndGlyphs">.</tspan><tspan x="19.60" textLength="4.69" lengthAdjust="spacingAndGlyphs">0</tspan><tspan x="24.67" textLength="4.52" lengthAdjust="spacingAndGlyphs">2</tspan><tspan x="29.82" textLength="4.59" lengthAdjust="spacingAndGlyphs">7</tspan></text>
<text transform="translate(250.75,240.00)" y="0" style="font-size:8.24px" fill="#000"><tspan x="0.30" textLength="4.64" lengthAdjust="spacingAndGlyphs">η</tspan><tspan x="5.41" textLength="6.02" lengthAdjust="spacingAndGlyphs">=</tspan><tspan x="11.97" textLength="4.69" lengthAdjust="spacingAndGlyphs">0</tspan><tspan x="16.93" textLength="2.41" lengthAdjust="spacingAndGlyphs">.</tspan><tspan x="19.60" textLength="4.69" lengthAdjust="spacingAndGlyphs">0</tspan><tspan x="24.80" textLength="4.50" lengthAdjust="spacingAndGlyphs">3</tspan><tspan x="29.76" textLength="4.74" lengthAdjust="spacingAndGlyphs">8</tspan><tspan x="34.97" textLength="4.43" lengthAdjust="spacingAndGlyphs">5</tspan></text>
<text transform="translate(329.76,280.49)" y="0" style="font-size:8.24px" fill="#000"><tspan x="0.30" textLength="4.64" lengthAdjust="spacingAndGlyphs">η</tspan><tspan x="5.41" textLength="6.02" lengthAdjust="spacingAndGlyphs">=</tspan><tspan x="11.97" textLength="4.69" lengthAdjust="spacingAndGlyphs">0</tspan><tspan x="16.93" textLength="2.41" lengthAdjust="spacingAndGlyphs">.</tspan><tspan x="19.60" textLength="4.69" lengthAdjust="spacingAndGlyphs">0</tspan><tspan x="24.79" textLength="4.43" lengthAdjust="spacingAndGlyphs">5</tspan><tspan x="29.76" textLength="4.74" lengthAdjust="spacingAndGlyphs">8</tspan><tspan x="34.85" textLength="4.74" lengthAdjust="spacingAndGlyphs">8</tspan></text>
<text transform="translate(432.96,320.98)" y="0" style="font-size:8.24px" fill="#000"><tspan x="0.30" textLength="4.64" lengthAdjust="spacingAndGlyphs">η</tspan><tspan x="5.41" textLength="6.02" lengthAdjust="spacingAndGlyphs">=</tspan><tspan x="11.97" textLength="4.69" lengthAdjust="spacingAndGlyphs">0</tspan><tspan x="16.93" textLength="2.41" lengthAdjust="spacingAndGlyphs">.</tspan><tspan x="19.67" textLength="4.48" lengthAdjust="spacingAndGlyphs">1</tspan></text>
<text transform="translate(554.67,361.47)" y="0" style="font-size:8.24px" fill="#000"><tspan x="0.30" textLength="4.64" lengthAdjust="spacingAndGlyphs">η</tspan><tspan x="5.41" textLength="6.02" lengthAdjust="spacingAndGlyphs">=</tspan><tspan x="11.97" textLength="4.69" lengthAdjust="spacingAndGlyphs">0</tspan><tspan x="16.93" textLength="2.41" lengthAdjust="spacingAndGlyphs">.</tspan><tspan x="19.58" textLength="4.52" lengthAdjust="spacingAndGlyphs">2</tspan></text>
<text transform="translate(358.40,8.80)" y="0" style="font-size:12.24px" fill="#000"><tspan x="-63.24" textLength="8.29" lengthAdjust="spacingAndGlyphs">R</tspan><tspan x="-55.14" textLength="6.00" lengthAdjust="spacingAndGlyphs">a</tspan><tspan x="-47.97" textLength="4.46" lengthAdjust="spacingAndGlyphs">t</tspan><tspan x="-43.24" textLength="7.21" lengthAdjust="spacingAndGlyphs">e</tspan><tspan x="-35.95" textLength="4.31" lengthAdjust="spacingAndGlyphs">-</tspan><tspan x="-31.30" textLength="6.28" lengthAdjust="spacingAndGlyphs">F</tspan><tspan x="-25.30" textLength="2.73" lengthAdjust="spacingAndGlyphs">i</tspan><tspan x="-22.16" textLength="7.25" lengthAdjust="spacingAndGlyphs">d</tspan><tspan x="-14.54" textLength="7.21" lengthAdjust="spacingAndGlyphs">e</tspan><tspan x="-6.97" textLength="2.73" lengthAdjust="spacingAndGlyphs">l</tspan><tspan x="-3.63" textLength="2.73" lengthAdjust="spacingAndGlyphs">i</tspan><tspan x="-0.52" textLength="4.46" lengthAdjust="spacingAndGlyphs">t</tspan><tspan x="4.43" textLength="6.44" lengthAdjust="spacingAndGlyphs">y</tspan><tspan x="14.69" textLength="7.99" lengthAdjust="spacingAndGlyphs">T</tspan><tspan x="20.65" textLength="5.12" lengthAdjust="spacingAndGlyphs">r</tspan><tspan x="25.78" textLength="6.00" lengthAdjust="spacingAndGlyphs">a</tspan><tspan x="32.99" textLength="7.25" lengthAdjust="spacingAndGlyphs">d</tspan><tspan x="40.60" textLength="7.21" lengthAdjust="spacingAndGlyphs">e</tspan><tspan x="48.00" textLength="7.09" lengthAdjust="spacingAndGlyphs">o</tspan><tspan x="55.27" textLength="4.38" lengthAdjust="spacingAndGlyphs">f</tspan><tspan x="59.31" textLength="4.38" lengthAdjust="spacingAndGlyphs">f</tspan></text>
<text transform="translate(296.90,400.70)" y="0" style="font-size:10.30px" fill="#000"><tspan x="0.27" textLength="5.78" lengthAdjust="spacingAndGlyphs">E</tspan><tspan x="6.51" textLength="6.00" lengthAdjust="spacingAndGlyphs">n</tspan><tspan x="12.72" textLength="3.71" lengthAdjust="spacingAndGlyphs">t</tspan><tspan x="16.80" textLength="5.00" lengthAdjust="spacingAndGlyphs">a</tspan><tspan x="22.90" textLength="6.00" lengthAdjust="spacingAndGlyphs">n</tspan><tspan x="29.14" textLength="6.04" lengthAdjust="spacingAndGlyphs">g</tspan><tspan x="35.64" textLength="2.27" lengthAdjust="spacingAndGlyphs">l</tspan><tspan x="38.26" textLength="6.01" lengthAdjust="spacingAndGlyphs">e</tspan><tspan x="44.47" textLength="9.49" lengthAdjust="spacingAndGlyphs">m</tspan><tspan x="54.16" textLength="6.01" lengthAdjust="spacingAndGlyphs">e</tspan><tspan x="60.41" textLength="6.00" lengthAdjust="spacingAndGlyphs">n</tspan><tspan x="66.62" textLength="3.71" lengthAdjust="spacingAndGlyphs">t</tspan><tspan x="73.93" textLength="5.24" lengthAdjust="spacingAndGlyphs">F</tspan><tspan x="78.94" textLength="2.27" lengthAdjust="spacingAndGlyphs">i</tspan><tspan x="81.55" textLength="6.04" lengthAdjust="spacingAndGlyphs">d</tspan><tspan x="87.90" textLength="6.01" lengthAdjust="spacingAndGlyphs">e</tspan><tspan x="94.21" textLength="2.27" lengthAdjust="spacingAndGlyphs">l</tspan><tspan x="96.99" textLength="2.27" lengthAdjust="spacingAndGlyphs">i</tspan><tspan x="99.58" textLength="3.71" lengthAdjust="spacingAndGlyphs">t</tspan><tspan x="103.70" textLength="5.37" lengthAdjust="spacingAndGlyphs">y</tspan></text>
<text transform="translate(409.00,400.70)" y="0" style="font-size:10.30px;font-style:italic" fill="#000"><tspan x="-0.01" textLength="5.46" lengthAdjust="spacingAndGlyphs">F</tspan></text>
<text transform="translate(414.60,402.00)" y="0" style="font-size:7.73px;font-style:italic" fill="#000"><tspan x="0.07" textLength="4.51" lengthAdjust="spacingAndGlyphs">e</tspan></text>
<text transform="translate(7.90,283.16) rotate(-90)" y="0" style="font-size:10.30px" fill="#000"><tspan x="0.07" textLength="7.51" lengthAdjust="spacingAndGlyphs">G</tspan><tspan x="7.82" textLength="6.66" lengthAdjust="spacingAndGlyphs">K</tspan><tspan x="14.42" textLength="5.84" lengthAdjust="spacingAndGlyphs">P</tspan><tspan x="23.37" textLength="6.64" lengthAdjust="spacingAndGlyphs">C</tspan><tspan x="30.30" textLength="5.85" lengthAdjust="spacingAndGlyphs">o</tspan><tspan x="36.34" textLength="5.98" lengthAdjust="spacingAndGlyphs">d</tspan><tspan x="42.63" textLength="5.95" lengthAdjust="spacingAndGlyphs">e</tspan><tspan x="51.90" textLength="7.40" lengthAdjust="spacingAndGlyphs">D</tspan><tspan x="59.65" textLength="2.25" lengthAdjust="spacingAndGlyphs">i</tspan><tspan x="62.30" textLength="9.40" lengthAdjust="spacingAndGlyphs">m</tspan><tspan x="71.88" textLength="5.95" lengthAdjust="spacingAndGlyphs">e</tspan><tspan x="78.07" textLength="5.94" lengthAdjust="spacingAndGlyphs">n</tspan><tspan x="84.43" textLength="4.74" lengthAdjust="spacingAndGlyphs">s</tspan><tspan x="89.57" textLength="2.25" lengthAdjust="spacingAndGlyphs">i</tspan><tspan x="92.17" textLength="5.85" lengthAdjust="spacingAndGlyphs">o</tspan><tspan x="98.31" textLength="5.94" lengthAdjust="spacingAndGlyphs">n</tspan></text>
<text transform="translate(7.90,176.60) rotate(-90)" y="0" style="font-size:10.30px;font-style:italic" fill="#000"><tspan x="0.09" textLength="6.01" lengthAdjust="spacingAndGlyphs">d</tspan></text>
<text transform="translate(7.90,166.88) rotate(-90)" y="0" style="font-size:10.30px" fill="#000"><tspan x="0.34" textLength="2.81" lengthAdjust="spacingAndGlyphs">(</tspan><tspan x="4.00" textLength="6.04" lengthAdjust="spacingAndGlyphs">d</tspan><tspan x="10.53" y="-0.88" textLength="3.45" lengthAdjust="spacingAndGlyphs">₁</tspan><tspan x="17.87" textLength="7.52" lengthAdjust="spacingAndGlyphs">=</tspan><tspan x="29.09" textLength="6.04" lengthAdjust="spacingAndGlyphs">d</tspan><tspan x="35.30" y="-0.88" textLength="3.93" lengthAdjust="spacingAndGlyphs">₂</tspan><tspan x="42.96" textLength="7.52" lengthAdjust="spacingAndGlyphs">=</tspan><tspan x="54.18" textLength="6.04" lengthAdjust="spacingAndGlyphs">d</tspan><tspan x="61.19" textLength="2.81" lengthAdjust="spacingAndGlyphs">)</tspan></text>
<rect x="605.6" y="20.35" width="71.60" height="61.95" rx="2" fill="#fff" fill-opacity="0.8" stroke="#ccc" stroke-opacity="0.8" stroke-width="1"/>
<circle cx="619.50" cy="29.40" r="2.95" fill="#1f77b4" fill-opacity="0.9" stroke="#1f77b4" stroke-opacity="0.9" stroke-width="0.9"/>
<text transform="translate(637.15,31.70)" y="0" style="font-size:10.30px" fill="#000"><tspan x="0.14" textLength="6.05" lengthAdjust="spacingAndGlyphs">σ</tspan><tspan x="9.95" textLength="7.52" lengthAdjust="spacingAndGlyphs">=</tspan><tspan x="21.32" textLength="5.86" lengthAdjust="spacingAndGlyphs">0</tspan><tspan x="27.52" textLength="3.01" lengthAdjust="spacingAndGlyphs">.</tspan><tspan x="30.99" textLength="5.63" lengthAdjust="spacingAndGlyphs">3</tspan></text>
<circle cx="619.50" cy="44.35" r="2.95" fill="#ff7f0e" fill-opacity="0.9" stroke="#ff7f0e" stroke-opacity="0.9" stroke-width="0.9"/>
<text transform="translate(637.15,46.65)" y="0" style="font-size:10.30px" fill="#000"><tspan x="0.14" textLength="6.05" lengthAdjust="spacingAndGlyphs">σ</tspan><tspan x="9.95" textLength="7.52" lengthAdjust="spacingAndGlyphs">=</tspan><tspan x="21.32" textLength="5.86" lengthAdjust="spacingAndGlyphs">0</tspan><tspan x="27.52" textLength="3.01" lengthAdjust="spacingAndGlyphs">.</tspan><tspan x="30.86" textLength="5.86" lengthAdjust="spacingAndGlyphs">4</tspan></text>
<circle cx="619.50" cy="59.30" r="2.95" fill="#2ca02c" fill-opacity="0.9" stroke="#2ca02c" stroke-opacity="0.9" stroke-width="0.9"/>
<text transform="translate(637.15,61.60)" y="0" style="font-size:10.30px" fill="#000"><tspan x="0.14" textLength="6.05" lengthAdjust="spacingAndGlyphs">σ</tspan><tspan x="9.95" textLength="7.52" lengthAdjust="spacingAndGlyphs">=</tspan><tspan x="21.32" textLength="5.86" lengthAdjust="spacingAndGlyphs">0</tspan><tspan x="27.52" textLength="3.01" lengthAdjust="spacingAndGlyphs">.</tspan><tspan x="30.99" textLength="5.53" lengthAdjust="spacingAndGlyphs">5</tspan></text>
<circle cx="619.50" cy="74.25" r="2.95" fill="#d62728" fill-opacity="0.9" stroke="#d62728" stroke-opacity="0.9" stroke-width="0.9"/>
<text transform="translate(637.15,76.55)" y="0" style="font-size:10.30px" fill="#000"><tspan x="0.14" textLength="6.05" lengthAdjust="spacingAndGlyphs">σ</tspan><tspan x="9.95" textLength="7.52" lengthAdjust="spacingAndGlyphs">=</tspan><tspan x="21.32" textLength="5.86" lengthAdjust="spacingAndGlyphs">0</tspan><tspan x="27.52" textLength="3.01" lengthAdjust="spacingAndGlyphs">.</tspan><tspan x="30.76" textLength="6.07" lengthAdjust="spacingAndGlyphs">6</tspan></text>
</g>
</svg>
</body></html>
